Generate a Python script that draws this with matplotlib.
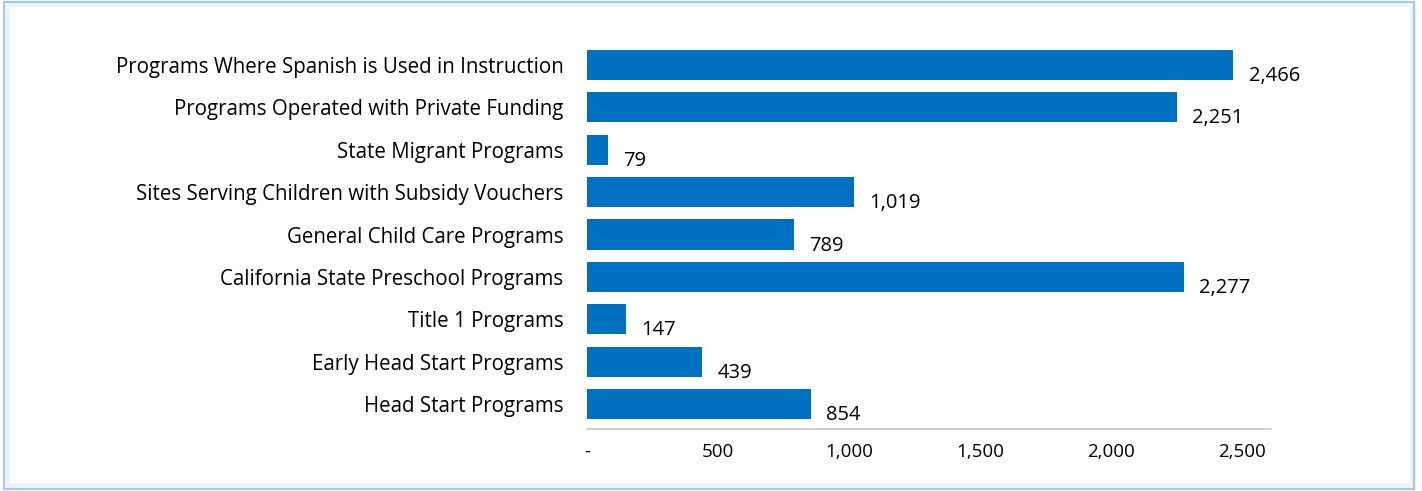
import matplotlib.pyplot as plt
from matplotlib.patches import Rectangle

# bottom to top
categories = [
    "Head Start Programs",
    "Early Head Start Programs",
    "Title 1 Programs",
    "California State Preschool Programs",
    "General Child Care Programs",
    "Sites Serving Children with Subsidy Vouchers",
    "State Migrant Programs",
    "Programs Operated with Private Funding",
    "Programs Where Spanish is Used in Instruction",
]
counts = [854, 439, 147, 2277, 789, 1019, 79, 2251, 2466]
xticks = [0, 500, 1000, 1500, 2000, 2500]
xtick_labels = ["-", "500", "1,000", "1,500", "2,000", "2,500"]

plt.rcParams["font.family"] = ["Open Sans", "DejaVu Sans"]

fig = plt.figure(figsize=(14.22, 4.91), dpi=100)
ax = fig.add_axes([587 / 1422, 1 - 429 / 491, (1271 - 587) / 1422, (429 - 40) / 491])

ypos = list(range(len(categories)))
ax.barh(ypos, counts, height=0.71, color="#0070C0")

for y, v in zip(ypos, counts):
    ax.annotate(f"{v:,}", (v, y), xytext=(11, -8), textcoords="offset points",
                ha="left", va="center", fontsize=14.5, color="black")

ax.set_xlim(0, 2610)
ax.set_ylim(-0.59, len(categories) - 0.41)
ax.set_yticks(ypos)
ax.set_yticklabels(categories, fontsize=14.8)
ax.set_xticks(xticks)
ax.set_xticklabels(xtick_labels, fontsize=13.5)
ax.tick_params(axis="y", length=0, pad=17)
ax.tick_params(axis="x", length=0, pad=10)

for side in ["top", "right", "left"]:
    ax.spines[side].set_visible(False)
ax.spines["bottom"].set_color("#c8c8c8")
ax.spines["bottom"].set_linewidth(1.2)

# light blue frame around the chart
fig.patches.append(Rectangle((7 / 1422, 5 / 491), 1406 / 1422, 482 / 491,
                             transform=fig.transFigure, fill=False,
                             edgecolor="#edf3fa", linewidth=4, zorder=0))
fig.patches.append(Rectangle((4 / 1422, 2 / 491), 1410 / 1422, 487 / 491,
                             transform=fig.transFigure, fill=False,
                             edgecolor="#a7c7ea", linewidth=1.5, zorder=1))

plt.savefig("out.png", dpi=100)
